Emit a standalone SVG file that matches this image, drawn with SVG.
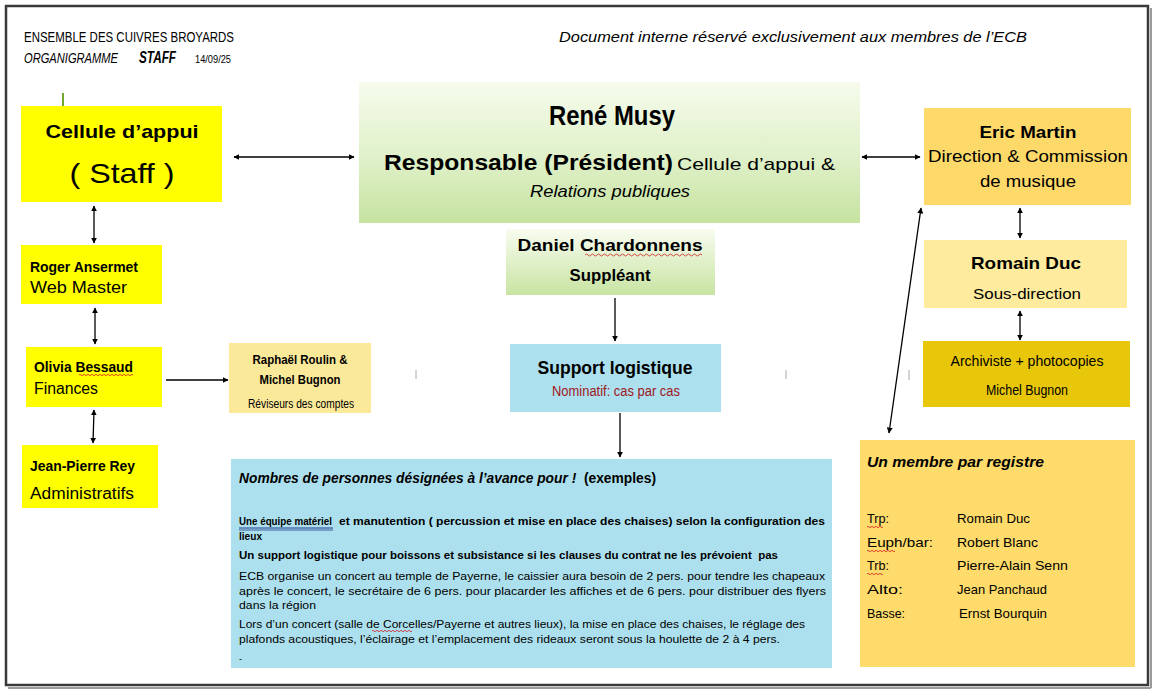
<svg xmlns="http://www.w3.org/2000/svg" width="1154" height="689" viewBox="0 0 1154 689">
<defs>
<style>
.t{font-family:"Liberation Sans",Arial,sans-serif;fill:#000}
.b{font-weight:bold}
.i{font-style:italic}
.c{text-anchor:middle}
.ln{stroke:#000;stroke-width:1.3;fill:none}
.tick{stroke:#aaa;stroke-width:1}
.wavy{stroke:#d02020;stroke-width:0.8;fill:none}
</style>
<marker id="ah" viewBox="0 0 10 10" refX="9" refY="5" markerWidth="6" markerHeight="6" orient="auto-start-reverse" markerUnits="userSpaceOnUse"><path d="M0,0 L10,5 L0,10 z" fill="#000"/></marker>
<linearGradient id="gGreen" x1="0" y1="0" x2="0" y2="1"><stop offset="0" stop-color="#f6fbec"/><stop offset="0.55" stop-color="#dff0c8"/><stop offset="1" stop-color="#c6e3a0"/></linearGradient>
<linearGradient id="gGreen2" x1="0" y1="0" x2="0" y2="1"><stop offset="0" stop-color="#f8fcf0"/><stop offset="1" stop-color="#c8e4a2"/></linearGradient>
</defs>
<rect x="0" y="0" width="1154" height="689" fill="#ffffff"/>
<rect x="6" y="6" width="1142" height="679" fill="#ffffff" stroke="#3a3a3a" stroke-width="2.5"/>
<line x1="1151" y1="8" x2="1151" y2="688" stroke="#9a9a9a" stroke-width="2"/>
<line x1="8" y1="688" x2="1151" y2="688" stroke="#9a9a9a" stroke-width="2"/>

<g id="header">
<text class="t" x="24" y="42" font-size="14" textLength="210" lengthAdjust="spacingAndGlyphs">ENSEMBLE DES CUIVRES BROYARDS</text>
<text class="t i" x="24" y="63" font-size="14" textLength="94" lengthAdjust="spacingAndGlyphs">ORGANIGRAMME</text>
<text class="t b i" x="139" y="63" font-size="16" textLength="37" lengthAdjust="spacingAndGlyphs">STAFF</text>
<text class="t" x="195" y="63" font-size="10" textLength="36" lengthAdjust="spacingAndGlyphs">14/09/25</text>
<text class="t i" x="559" y="42" font-size="15" textLength="468" lengthAdjust="spacingAndGlyphs">Document interne réservé exclusivement aux membres de l’ECB</text>
<line x1="63" y1="93" x2="63" y2="106" stroke="#70a830" stroke-width="2"/>
</g>

<g id="connectors">
<line class="ln" x1="234" y1="157" x2="354" y2="157" marker-start="url(#ah)" marker-end="url(#ah)"/>
<line class="ln" x1="862" y1="157" x2="920" y2="157" marker-start="url(#ah)" marker-end="url(#ah)"/>
<line class="ln" x1="94" y1="206" x2="94" y2="243" marker-start="url(#ah)" marker-end="url(#ah)"/>
<line class="ln" x1="95" y1="308" x2="95" y2="344" marker-start="url(#ah)" marker-end="url(#ah)"/>
<line class="ln" x1="94" y1="410" x2="93" y2="443" marker-start="url(#ah)" marker-end="url(#ah)"/>
<line class="ln" x1="166" y1="380" x2="228" y2="380" marker-end="url(#ah)"/>
<line class="ln" x1="615" y1="298" x2="615" y2="341" marker-end="url(#ah)"/>
<line class="ln" x1="620" y1="413" x2="620" y2="457" marker-end="url(#ah)"/>
<line class="ln" x1="1020" y1="208" x2="1020" y2="238" marker-start="url(#ah)" marker-end="url(#ah)"/>
<line class="ln" x1="1020" y1="311" x2="1020" y2="340" marker-start="url(#ah)" marker-end="url(#ah)"/>
<line class="ln" x1="921" y1="208" x2="889" y2="433" marker-start="url(#ah)" marker-end="url(#ah)"/>
<line class="tick" x1="416" y1="370" x2="416" y2="379"/>
<line class="tick" x1="786" y1="370" x2="786" y2="379"/>
<line class="tick" x1="909" y1="370" x2="909" y2="380"/>
</g>

<g id="cellule">
<rect x="21" y="106" width="201" height="96" fill="#ffff00"/>
<text class="t b c" x="122" y="138" font-size="19" textLength="153" lengthAdjust="spacingAndGlyphs">Cellule d’appui</text>
<text class="t c" x="122" y="183" font-size="28" textLength="105" lengthAdjust="spacingAndGlyphs">( Staff )</text>
</g>

<g id="rene-musy">
<rect x="359" y="82" width="501" height="141" fill="url(#gGreen)"/>
<text class="t b c" x="612" y="125" font-size="28" textLength="126" lengthAdjust="spacingAndGlyphs">René Musy</text>
<text class="t b" x="384" y="170" font-size="22" textLength="289" lengthAdjust="spacingAndGlyphs">Responsable (Président)</text>
<text class="t" x="677" y="170" font-size="17" textLength="158" lengthAdjust="spacingAndGlyphs">Cellule d’appui &amp;</text>
<text class="t i c" x="610" y="197" font-size="17" textLength="160" lengthAdjust="spacingAndGlyphs">Relations publiques</text>
</g>

<g id="daniel">
<rect x="506" y="229" width="209" height="66" fill="url(#gGreen2)"/>
<text class="t b c" x="610" y="251" font-size="17" textLength="185" lengthAdjust="spacingAndGlyphs">Daniel Chardonnens</text>
<path class="wavy" d="M585,255 q1.5,-2 3,0 t3,0 t3,0 t3,0 t3,0 t3,0 t3,0 t3,0 t3,0 t3,0 t3,0 t3,0 t3,0 t3,0 t3,0 t3,0 t3,0 t3,0 t3,0 t3,0 t3,0 t3,0 t3,0 t3,0 t3,0 t3,0 t3,0 t3,0 t3,0 t3,0 t3,0 t3,0 t3,0 t3,0 t3,0 t3,0 t3,0 t3,0 t3,0"/>
<text class="t b c" x="610" y="281" font-size="16" textLength="81" lengthAdjust="spacingAndGlyphs">Suppléant</text>
</g>

<g id="support">
<rect x="510" y="344" width="211" height="68" fill="#ade0ee"/>
<text class="t b c" x="615" y="374" font-size="19" textLength="155" lengthAdjust="spacingAndGlyphs">Support logistique</text>
<text class="t c" x="616" y="396" font-size="14" style="fill:#a0171c" textLength="128" lengthAdjust="spacingAndGlyphs">Nominatif: cas par cas</text>
</g>

<g id="details">
<rect x="231" y="459" width="601" height="209" fill="#ade0ee"/>
<text class="t b" x="239" y="483" font-size="14" textLength="417" lengthAdjust="spacingAndGlyphs"><tspan class="i">Nombres de personnes désignées à l’avance pour !</tspan>&#160; (exemples)</text>
<text class="t b" x="239" y="525" font-size="11.5" textLength="93" lengthAdjust="spacingAndGlyphs">Une équipe matériel</text>
<line x1="239" y1="528" x2="333" y2="528" stroke="#1f3a8a" stroke-width="1"/>
<line x1="239" y1="530" x2="333" y2="530" stroke="#1f3a8a" stroke-width="0.8"/>
<text class="t b" x="339" y="525" font-size="11.5" textLength="486" lengthAdjust="spacingAndGlyphs">et manutention ( percussion et mise en place des chaises) selon la configuration des</text>
<text class="t b" x="239" y="540" font-size="11.5" textLength="23" lengthAdjust="spacingAndGlyphs">lieux</text>
<text class="t b" x="239" y="559" font-size="11.5" textLength="539" lengthAdjust="spacingAndGlyphs">Un support logistique pour boissons et subsistance si les clauses du contrat ne les prévoient&#160; pas</text>
<text class="t" x="239" y="580" font-size="11.5" textLength="586" lengthAdjust="spacingAndGlyphs">ECB organise un concert au temple de Payerne, le caissier aura besoin de 2 pers. pour tendre les chapeaux</text>
<text class="t" x="239" y="595" font-size="11.5" textLength="587" lengthAdjust="spacingAndGlyphs">après le concert, le secrétaire de 6 pers. pour placarder les affiches et de 6 pers. pour distribuer des flyers</text>
<text class="t" x="239" y="609" font-size="11.5" textLength="77" lengthAdjust="spacingAndGlyphs">dans la région</text>
<text class="t" x="239" y="628" font-size="11.5" textLength="566" lengthAdjust="spacingAndGlyphs">Lors d’un concert (salle de Corcelles/Payerne et autres lieux), la mise en place des chaises, le réglage des</text>
<path class="wavy" d="M372,631 q1,-1.5 2,0 t2,0 t2,0 t2,0 t2,0 t2,0 t2,0 t2,0 t2,0 t2,0 t2,0 t2,0 t2,0 t2,0 t2,0 t2,0 t2,0 t2,0 t2,0 t2,0"/>
<text class="t" x="239" y="643" font-size="11.5" textLength="541" lengthAdjust="spacingAndGlyphs">plafonds acoustiques, l’éclairage et l’emplacement des rideaux seront sous la houlette de 2 à 4 pers.</text>
<text class="t" x="239" y="662" font-size="9">-</text>
</g>

<g id="roger">
<rect x="21" y="245" width="141" height="59" fill="#ffff00"/>
<text class="t b" x="30" y="272" font-size="15" textLength="108" lengthAdjust="spacingAndGlyphs">Roger Ansermet</text>
<text class="t" x="30" y="293" font-size="16" textLength="97" lengthAdjust="spacingAndGlyphs">Web Master</text>
</g>

<g id="olivia">
<rect x="26" y="347" width="136" height="60" fill="#ffff00"/>
<text class="t b" x="34" y="372" font-size="15" textLength="99" lengthAdjust="spacingAndGlyphs">Olivia Bessaud</text>
<path class="wavy" d="M79,375 q1,-1.5 2,0 t2,0 t2,0 t2,0 t2,0 t2,0 t2,0 t2,0 t2,0 t2,0 t2,0 t2,0 t2,0 t2,0 t2,0 t2,0 t2,0 t2,0 t2,0 t2,0 t2,0 t2,0 t2,0 t2,0 t2,0 t2,0 t2,0"/>
<text class="t" x="34" y="394" font-size="16" textLength="64" lengthAdjust="spacingAndGlyphs">Finances</text>
</g>

<g id="jean-pierre">
<rect x="22" y="445" width="136" height="63" fill="#ffff00"/>
<text class="t b" x="30" y="471" font-size="15" textLength="105" lengthAdjust="spacingAndGlyphs">Jean-Pierre Rey</text>
<text class="t" x="30" y="499" font-size="16" textLength="104" lengthAdjust="spacingAndGlyphs">Administratifs</text>
</g>

<g id="reviseurs">
<rect x="229" y="343" width="142" height="70" fill="#fbe99a"/>
<text class="t b c" x="300" y="364" font-size="13" textLength="95" lengthAdjust="spacingAndGlyphs">Raphaël Roulin &amp;</text>
<text class="t b c" x="300" y="384" font-size="13" textLength="81" lengthAdjust="spacingAndGlyphs">Michel Bugnon</text>
<text class="t c" x="301" y="408" font-size="12" textLength="106" lengthAdjust="spacingAndGlyphs">Réviseurs des comptes</text>
</g>

<g id="eric-martin">
<rect x="924" y="108" width="207" height="97" fill="#fdd96a"/>
<text class="t b c" x="1028" y="138" font-size="17" textLength="97" lengthAdjust="spacingAndGlyphs">Eric Martin</text>
<text class="t c" x="1028" y="162" font-size="17" textLength="200" lengthAdjust="spacingAndGlyphs">Direction &amp; Commission</text>
<text class="t c" x="1028" y="187" font-size="17" textLength="96" lengthAdjust="spacingAndGlyphs">de musique</text>
</g>

<g id="romain-duc">
<rect x="924" y="240" width="203" height="68" fill="#feeb9e"/>
<text class="t b c" x="1026" y="269" font-size="17" textLength="110" lengthAdjust="spacingAndGlyphs">Romain Duc</text>
<text class="t c" x="1027" y="299" font-size="15" textLength="108" lengthAdjust="spacingAndGlyphs">Sous-direction</text>
</g>

<g id="archiviste">
<rect x="923" y="341" width="207" height="66" fill="#e8c70a"/>
<text class="t c" x="1027" y="366" font-size="15" textLength="153" lengthAdjust="spacingAndGlyphs">Archiviste + photocopies</text>
<text class="t c" x="1027" y="395" font-size="15" textLength="82" lengthAdjust="spacingAndGlyphs">Michel Bugnon</text>
</g>

<g id="registre">
<rect x="860" y="440" width="275" height="227" fill="#fedb6b"/>
<text class="t b i" x="867" y="467" font-size="15" textLength="177" lengthAdjust="spacingAndGlyphs">Un membre par registre</text>
<text class="t" x="867" y="523" font-size="13" textLength="22" lengthAdjust="spacingAndGlyphs">Trp:</text>
<path class="wavy" d="M867,527 q1,-1.5 2,0 t2,0 t2,0 t2,0 t2,0 t2,0 t2,0 t2,0"/>
<text class="t" x="957" y="523" font-size="13" textLength="73" lengthAdjust="spacingAndGlyphs">Romain Duc</text>
<text class="t" x="867" y="547" font-size="13" textLength="66" lengthAdjust="spacingAndGlyphs">Euph/bar:</text>
<path class="wavy" d="M867,551 q1,-1.5 2,0 t2,0 t2,0 t2,0 t2,0 t2,0 t2,0 t2,0 t2,0 t2,0 t2,0 t2,0 t2,0 t2,0"/>
<text class="t" x="957" y="547" font-size="13" textLength="81" lengthAdjust="spacingAndGlyphs">Robert Blanc</text>
<text class="t" x="867" y="570" font-size="13" textLength="22" lengthAdjust="spacingAndGlyphs">Trb:</text>
<path class="wavy" d="M867,574 q1,-1.5 2,0 t2,0 t2,0 t2,0 t2,0 t2,0 t2,0 t2,0"/>
<text class="t" x="957" y="570" font-size="13" textLength="111" lengthAdjust="spacingAndGlyphs">Pierre-Alain Senn</text>
<text class="t" x="867" y="594" font-size="13" textLength="36" lengthAdjust="spacingAndGlyphs">Alto:</text>
<text class="t" x="957" y="594" font-size="13" textLength="90" lengthAdjust="spacingAndGlyphs">Jean Panchaud</text>
<text class="t" x="867" y="618" font-size="13" textLength="38" lengthAdjust="spacingAndGlyphs">Basse:</text>
<text class="t" x="959" y="618" font-size="13" textLength="88" lengthAdjust="spacingAndGlyphs">Ernst Bourquin</text>
</g>
</svg>
